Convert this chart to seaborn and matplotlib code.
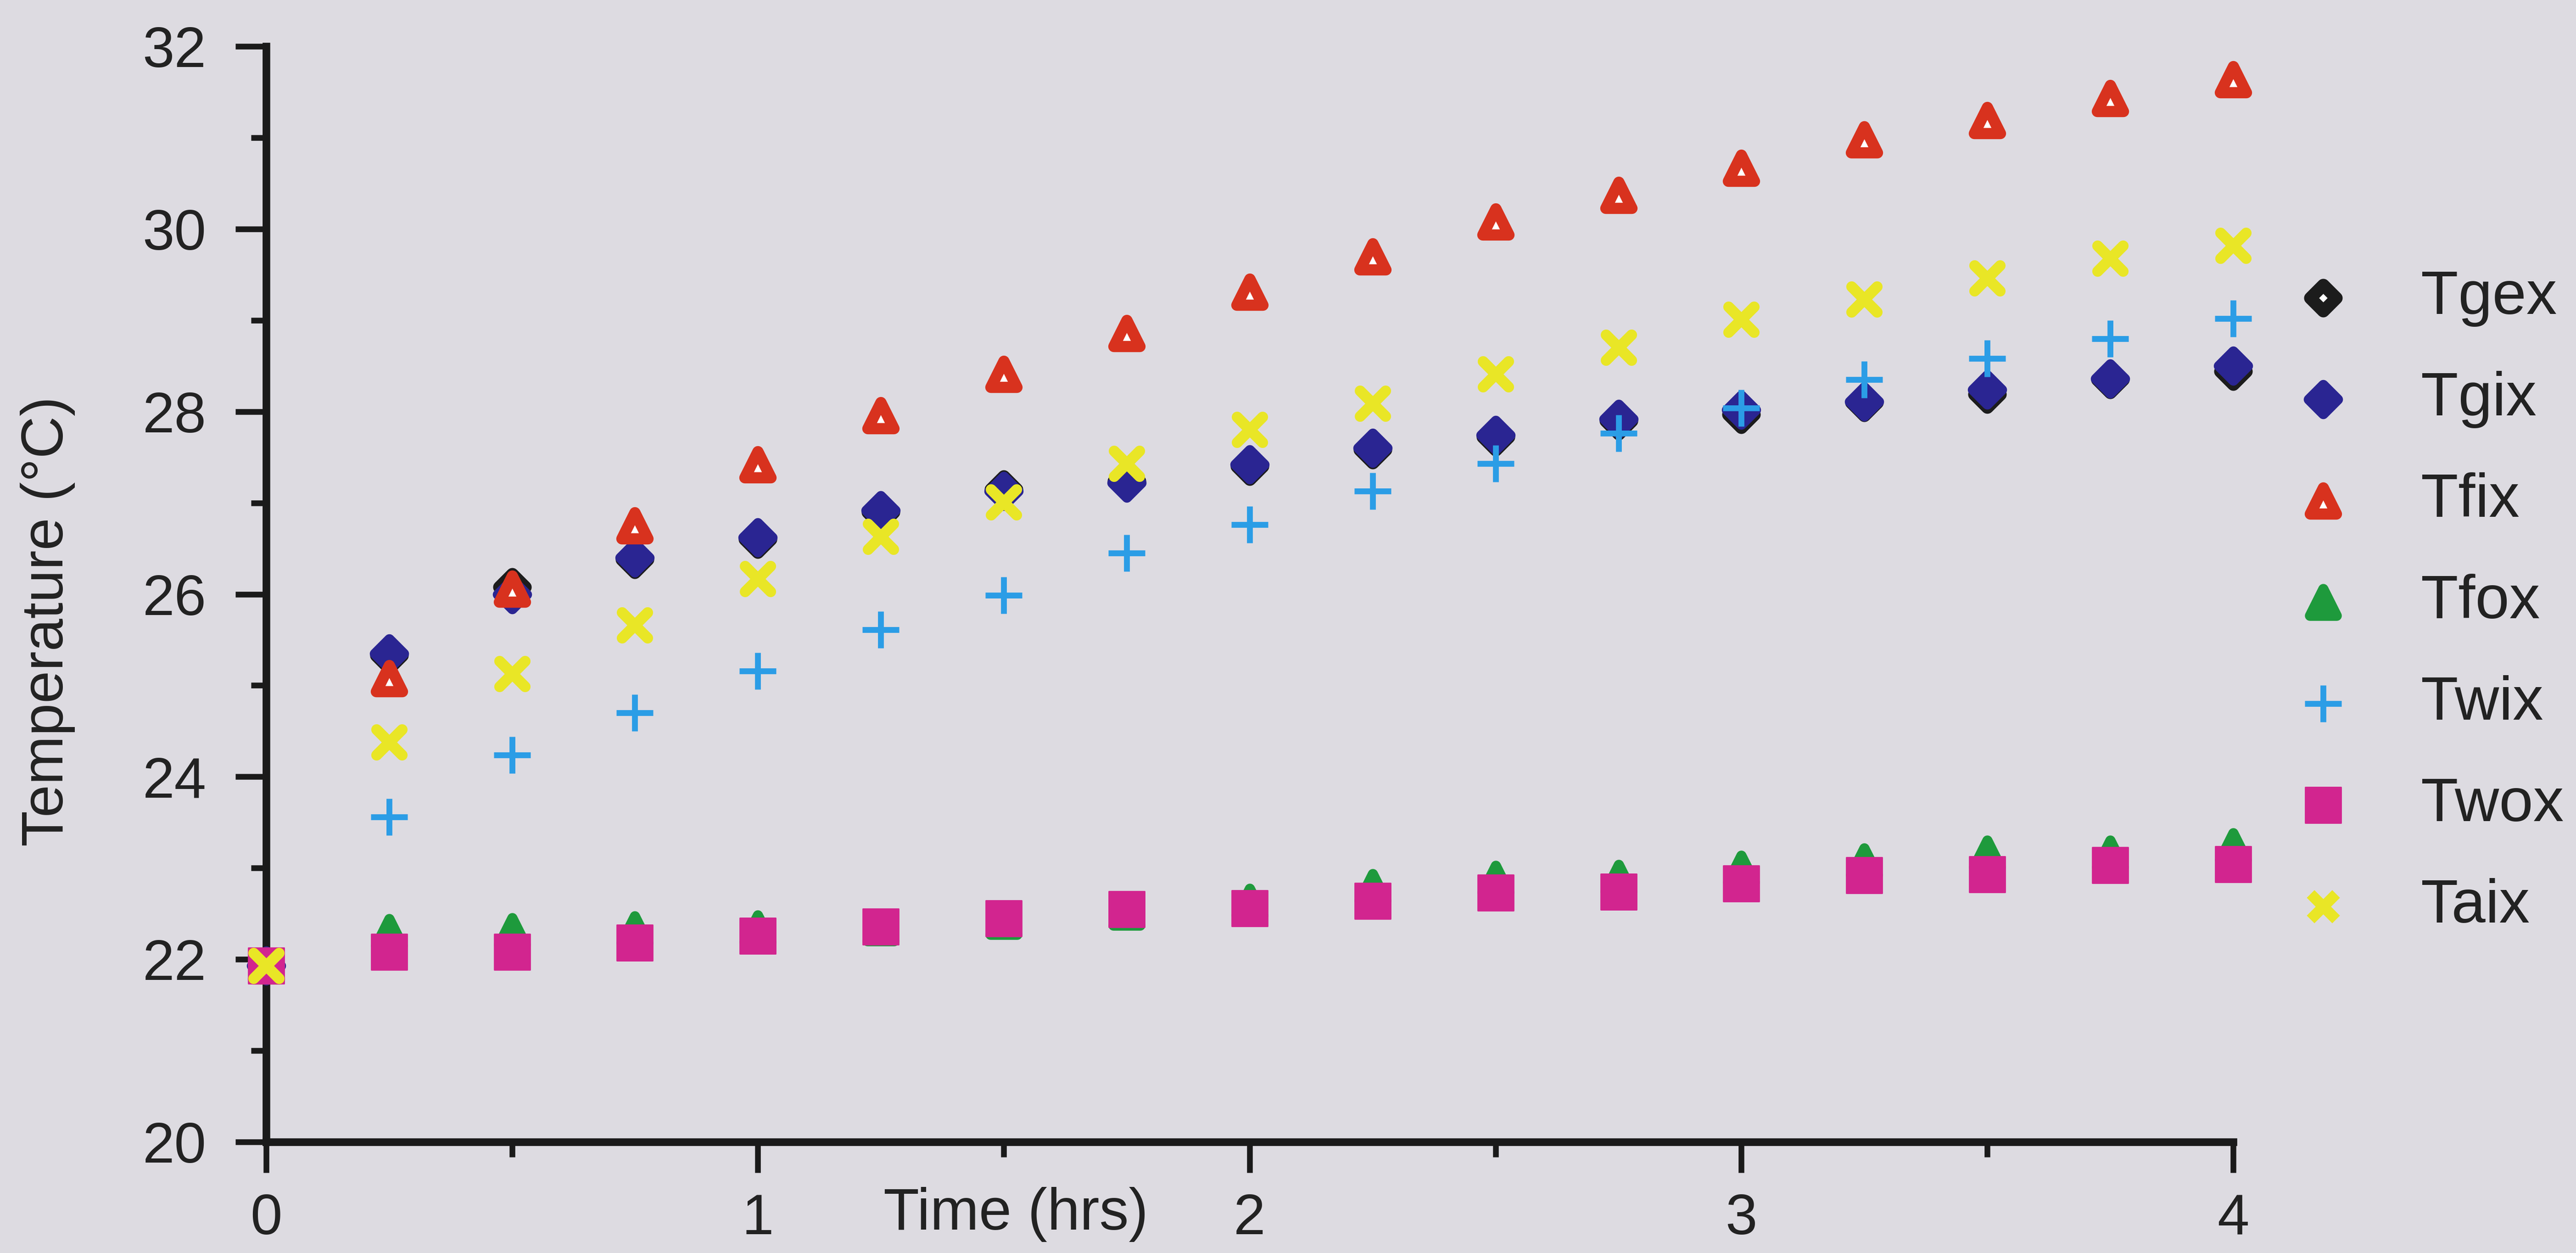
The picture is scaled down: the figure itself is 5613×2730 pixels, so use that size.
import matplotlib
matplotlib.use("Agg")
import matplotlib.pyplot as plt
import numpy as np
import pandas as pd
import seaborn as sns
from matplotlib.ticker import MultipleLocator

# Time axis (hours) and temperature readings (deg C) for each probe
hours = [0, 0.25, 0.5, 0.75, 1.0, 1.25, 1.5, 1.75, 2.0,
         2.25, 2.5, 2.75, 3.0, 3.25, 3.5, 3.75, 4.0]

tgex = [21.93, 25.33, 26.08, 26.38, 26.60, 26.90, 27.15, 27.24, 27.40,
        27.58, 27.72, 27.90, 27.97, 28.10, 28.19, 28.35, 28.44]
tgix = [21.93, 25.35, 26.00, 26.40, 26.62, 26.92, 27.13, 27.22, 27.42,
        27.60, 27.74, 27.92, 28.02, 28.11, 28.24, 28.36, 28.50]
tfix = [21.93, 25.08, 26.06, 26.75, 27.42, 27.96, 28.41, 28.86, 29.31,
        29.70, 30.08, 30.37, 30.67, 30.98, 31.19, 31.43, 31.64]
tfox = [21.93, 22.30, 22.31, 22.33, 22.34, 22.35, 22.42, 22.52, 22.63,
        22.79, 22.88, 22.89, 22.99, 23.07, 23.16, 23.16, 23.24]
twix = [21.93, 23.56, 24.24, 24.70, 25.16, 25.61, 25.99, 26.45, 26.76,
        27.13, 27.43, 27.76, 28.04, 28.35, 28.58, 28.80, 29.02]
twox = [21.93, 22.08, 22.08, 22.18, 22.26, 22.36, 22.45, 22.55, 22.56,
        22.64, 22.73, 22.74, 22.83, 22.92, 22.93, 23.03, 23.04]
taix = [21.93, 24.38, 25.13, 25.66, 26.17, 26.63, 27.01, 27.43, 27.80,
        28.09, 28.41, 28.70, 29.01, 29.23, 29.46, 29.68, 29.82]

series_names = ["Tgex", "Tgix", "Tfix", "Tfox", "Twix", "Twox", "Taix"]
series_values = [tgex, tgix, tfix, tfox, twix, twox, taix]

x_ticks = [0, 1, 2, 3, 4]
y_ticks = [20, 22, 24, 26, 28, 30, 32]

df = pd.DataFrame({"Time": hours})
for name, vals in zip(series_names, series_values):
    df[name] = vals
long_df = df.melt(id_vars="Time", var_name="Series", value_name="Temp")

sns.set_theme(style="ticks")
plt.rcParams["font.family"] = ["Liberation Sans", "DejaVu Sans"]
text_color = "#222222"
bg = "#dddbe1"

fig = plt.figure(figsize=(28.065, 13.65), dpi=200, facecolor=bg)
ax = fig.add_axes([0.1033, 0.0886, 0.7636, 0.8744])
ax.set_facecolor(bg)

# marker appearance per probe
styles = {
    "Tgex": dict(marker="D", s=210, color="#1c1c1c", facecolor="white",
                 edgecolor="#1c1c1c", linewidth=9.8, joinstyle="round"),
    "Tgix": dict(marker="D", s=260, color="#2a2592", edgecolor="#2a2592",
                 linewidth=8.0, joinstyle="round"),
    "Tfix": dict(marker="^", s=420, color="#d8321e", facecolor="white",
                 edgecolor="#d8321e", linewidth=8.8, joinstyle="round"),
    "Tfox": dict(marker="^", s=440, color="#1e9a3c", edgecolor="#1e9a3c",
                 linewidth=8.0, joinstyle="round"),
    "Twix": dict(marker="+", s=840, color="#2b9de6", linewidth=4.6,
                 capstyle="butt"),
    "Twox": dict(marker="s", s=790, color="#d2258f", edgecolor="#d2258f",
                 linewidth=1.0),
    "Taix": dict(marker="x", s=400, color="#e9e626", linewidth=8.5,
                 capstyle="round"),
}

for i, name in enumerate(series_names):
    sub = long_df[long_df["Series"] == name]
    sns.scatterplot(data=sub, x="Time", y="Temp", ax=ax, label=name,
                    clip_on=False, zorder=3 + i, **styles[name])

ax.set_xlim(0, 4)
ax.set_ylim(20, 32)
ax.set_xticks(x_ticks)
ax.set_yticks(y_ticks)
ax.set_xticklabels([str(v) for v in x_ticks])
ax.set_yticklabels([str(v) for v in y_ticks])
ax.xaxis.set_minor_locator(MultipleLocator(0.5))
ax.yaxis.set_minor_locator(MultipleLocator(1))

for side in ("top", "right"):
    ax.spines[side].set_visible(False)
for side in ("left", "bottom"):
    ax.spines[side].set_linewidth(6)
    ax.spines[side].set_color("#1a1a1a")
    ax.spines[side].set_zorder(2)

ax.tick_params(axis="both", which="major", length=24, width=4.5,
               color="#1a1a1a", labelsize=45, labelcolor=text_color)
ax.tick_params(axis="both", which="minor", length=12, width=4.5,
               color="#1a1a1a")
ax.tick_params(axis="y", which="major", pad=23)
ax.tick_params(axis="x", which="major", pad=16)

ax.set_ylabel("Temperature (\u00b0C)", fontsize=46, color=text_color,
              va="center", ha="center")
ax.yaxis.set_label_coords(-0.111, 0.475)
ax.set_xlabel("Time (hrs)", fontsize=46, color=text_color,
              va="center", ha="center")
ax.xaxis.set_label_coords(1.525 / 4, -0.066)

handles, labels = ax.get_legend_handles_labels()
leg = ax.legend(handles, labels, loc="upper left",
                bbox_to_anchor=(0.878, 0.785), bbox_transform=fig.transFigure,
                frameon=False, fontsize=48, labelspacing=0.72,
                handlelength=2.0, handletextpad=0.6, borderpad=0,
                borderaxespad=0, scatterpoints=1)
for t in leg.get_texts():
    t.set_color(text_color)

fig.savefig("out.png", dpi=200, facecolor=bg)
